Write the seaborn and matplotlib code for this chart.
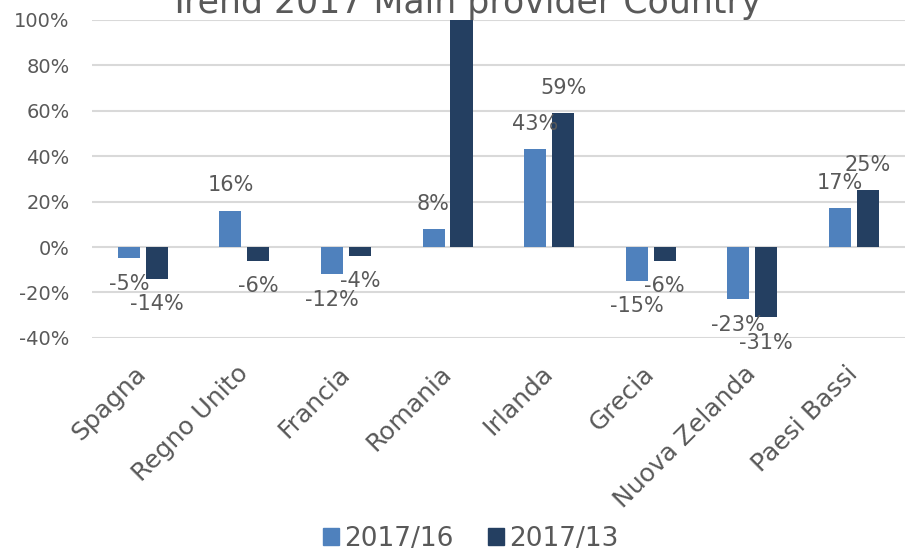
import pandas as pd
import matplotlib.pyplot as plt
import seaborn as sns

countries = ["Spagna", "Regno Unito", "Francia", "Romania", "Irlanda", "Grecia", "Nuova Zelanda", "Paesi Bassi"]
trend_16 = [-5, 16, -12, 8, 43, -15, -23, 17]
# Romania 2017/13 goes past the top of the axis, its label is cut off
trend_13 = [-14, -6, -4, 130, 59, -6, -31, 25]
series = ["2017/16", "2017/13"]
colors = ["#4F81BD", "#243F61"]
yticks = [-40, -20, 0, 20, 40, 60, 80, 100]

sns.set_theme(style="white")
plt.rcParams['font.family'] = ['DejaVu Sans']
grey = "#595959"

df = pd.DataFrame({
    "country": countries * 2,
    "value": trend_16 + trend_13,
    "serie": [series[0]] * len(countries) + [series[1]] * len(countries),
})

fig = plt.figure(figsize=(9.11, 5.53), dpi=100)
ax = fig.add_axes([0.101, 0.389, 0.892, 0.575])

sns.barplot(data=df, x="country", y="value", hue="serie", hue_order=series,
            palette=colors, width=0.55, gap=0.21, saturation=1, ax=ax,
            edgecolor="none", legend=False)

ax.set_ylim(-40, 100)
ax.set_xlim(-0.5, len(countries) - 0.5)
ax.set_yticks(yticks)
ax.set_yticklabels([f"{t}%" for t in yticks])
ax.yaxis.grid(True, color="#D9D9D9", linewidth=1.5)
ax.set_axisbelow(True)
for s in ax.spines.values():
    s.set_visible(False)
ax.set_xlabel("")
ax.set_ylabel("")
ax.tick_params(axis="y", length=0, pad=16, labelsize=14, labelcolor=grey)
ax.tick_params(axis="x", length=0, pad=23, labelsize=18, labelcolor=grey)
plt.setp(ax.get_xticklabels(), rotation=45, ha="right", va="center", rotation_mode="anchor")

for cont, vals in zip(ax.containers, [trend_16, trend_13]):
    ax.bar_label(cont, labels=[f"{v}%" for v in vals], padding=11, fontsize=15, color=grey)

fig.text(0.51, 0.976, "Trend 2017 Main provider Country", ha="center", va="baseline",
         fontsize=25, color=grey)

handles = [plt.Rectangle((0, 0), 1, 1, color=c) for c in colors]
fig.legend(handles, series, loc="center", bbox_to_anchor=(0.517, 0.026), ncol=2,
           frameon=False, fontsize=19, labelcolor=grey, handlelength=0.6, handleheight=0.6,
           handletextpad=0.2, columnspacing=1.3)

fig.savefig("out.png", dpi=100)
